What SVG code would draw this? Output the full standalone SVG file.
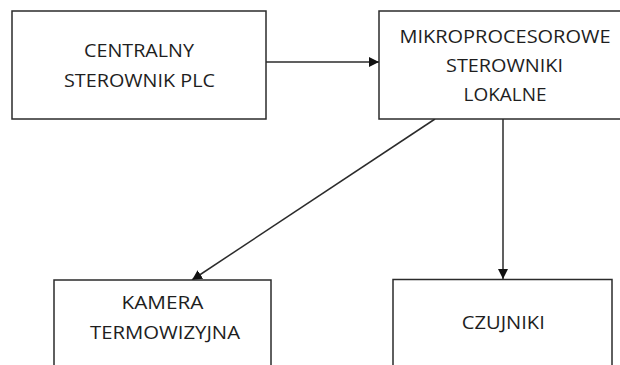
<svg xmlns="http://www.w3.org/2000/svg" width="620" height="365" viewBox="0 0 620 365">
<style>
.box{fill:#fff;stroke:#2b2b2b;stroke-width:1.5}
.lbl{font-family:"Open Sans","Liberation Sans",sans-serif;font-size:19px;fill:#1e1e1e;text-anchor:middle}
.conn{stroke:#2b2b2b;stroke-width:1.5;fill:none}
</style>
<defs>
<marker id="ah" viewBox="0 0 10 10" refX="10" refY="5" markerWidth="10" markerHeight="10" markerUnits="userSpaceOnUse" orient="auto">
<path d="M0,0 L10,5 L0,10 z" fill="#111"/>
</marker>
</defs>
<rect width="620" height="365" fill="#fff"/>
<g id="connectors">
<line class="conn" x1="266" y1="62" x2="379" y2="62" marker-end="url(#ah)"/>
<line class="conn" x1="435" y1="119" x2="192" y2="280" marker-end="url(#ah)"/>
<line class="conn" x1="503" y1="119" x2="503" y2="279" marker-end="url(#ah)"/>
</g>
<g id="node-plc">
<rect class="box" x="12" y="11" width="254" height="108"/>
<text class="lbl" x="139" y="57" textLength="110" lengthAdjust="spacingAndGlyphs">CENTRALNY</text>
<text class="lbl" x="139.5" y="87" textLength="151" lengthAdjust="spacingAndGlyphs">STEROWNIK PLC</text>
</g>
<g id="node-local">
<rect class="box" x="379" y="11" width="252" height="108"/>
<text class="lbl" x="505" y="43" textLength="211" lengthAdjust="spacingAndGlyphs">MIKROPROCESOROWE</text>
<text class="lbl" x="504.5" y="72" textLength="117" lengthAdjust="spacingAndGlyphs">STEROWNIKI</text>
<text class="lbl" x="505" y="101" textLength="83" lengthAdjust="spacingAndGlyphs">LOKALNE</text>
</g>
<g id="node-camera">
<rect class="box" x="54" y="280" width="217" height="100"/>
<text class="lbl" x="162.5" y="309" textLength="82" lengthAdjust="spacingAndGlyphs">KAMERA</text>
<text class="lbl" x="165" y="339" textLength="150" lengthAdjust="spacingAndGlyphs">TERMOWIZYJNA</text>
</g>
<g id="node-sensors">
<rect class="box" x="393" y="279.5" width="219" height="100"/>
<text class="lbl" x="503.3" y="329" textLength="83" lengthAdjust="spacingAndGlyphs">CZUJNIKI</text>
</g>
</svg>
